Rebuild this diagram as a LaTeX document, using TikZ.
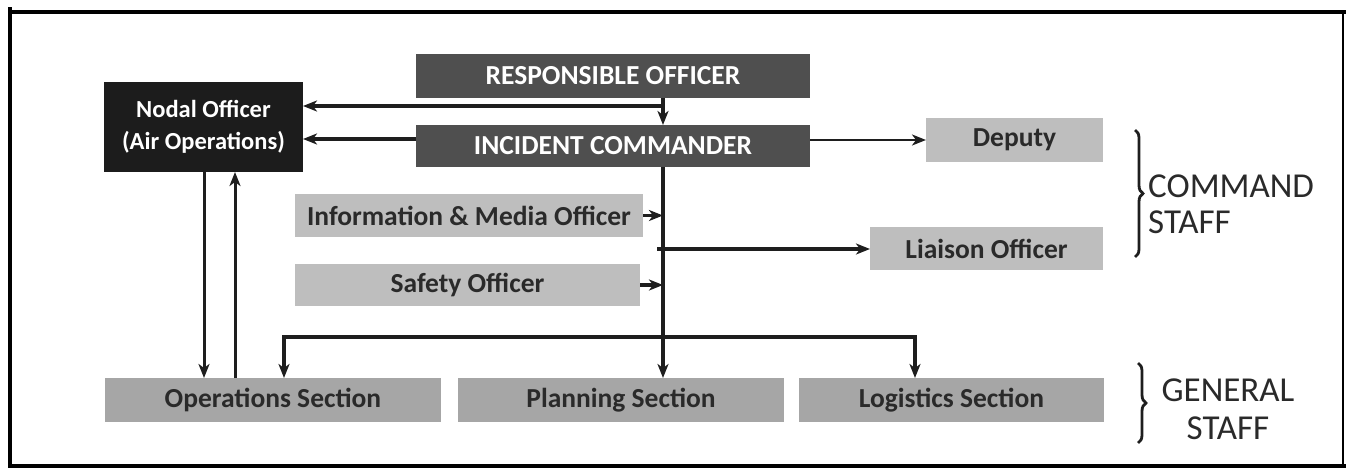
\documentclass[tikz,border=0pt]{standalone}
\usepackage{fontspec}
\setmainfont{Carlito}
\usetikzlibrary{arrows.meta,decorations.pathreplacing}
\definecolor{darkbox}{HTML}{4F4F4F}
\definecolor{nodalbox}{HTML}{1C1C1C}
\definecolor{lightbox}{HTML}{BEBEBE}
\definecolor{secbox}{HTML}{A6A6A6}
\definecolor{txtdark}{HTML}{2A2A2A}
\definecolor{linec}{HTML}{1E1E1E}
\begin{document}
\begin{tikzpicture}[x=1pt,y=-1pt,
  basebox/.style={anchor=north west, inner sep=0pt, outer sep=0pt, align=center,
    font=\fontsize{27.5}{29}\selectfont\bfseries},
  darkb/.style={basebox, fill=darkbox, text=white},
  nodalb/.style={basebox, fill=nodalbox, text=white, font=\fontsize{24.5}{32}\selectfont\bfseries},
  lightb/.style={basebox, fill=lightbox, text=txtdark},
  secb/.style={basebox, fill=secbox, text=txtdark},
  arr/.style={draw=linec, line width=3.6pt, -{Stealth[length=14pt,width=11pt,inset=4pt]}},
  thinarr/.style={draw=linec, line width=2.2pt, -{Stealth[length=14pt,width=11pt,inset=4pt]}},
  dblarr/.style={draw=linec, line width=3.6pt, {Stealth[length=14pt,width=11pt,inset=4pt]}-{Stealth[length=14pt,width=11pt,inset=4pt]}},
  bracestyle/.style={draw=linec, line width=2.8pt, decorate, decoration={brace, amplitude=8pt}},
  stafftext/.style={inner sep=0pt, text=txtdark, font=\fontsize{35}{36}\selectfont}
]
\useasboundingbox (0,0) rectangle (1346,471);

% frame
\draw[line width=4.5pt, draw=black] (1346,12) -- (10,12) -- (10,466) -- (1346,466);
\draw[line width=4.5pt, draw=black] (10,7) -- (10,12);
\draw[line width=2pt, draw=black] (1343,12) -- (1343,466);

% boxes
\node[darkb, minimum width=394pt, minimum height=44pt] (ro) at (416,54) {RESPONSIBLE OFFICER};
\node[darkb, minimum width=394pt, minimum height=42pt] (ic) at (416,125) {INCIDENT COMMANDER};
\node[nodalb, minimum width=199pt, minimum height=90pt] (nodal) at (104,82) {Nodal Officer\\(Air Operations)};
\node[lightb, minimum width=177pt, minimum height=44pt] (deputy) at (926,118) {Deputy};
\node[lightb, minimum width=348pt, minimum height=43pt] (info) at (295,194) {Information \& Media Officer};
\node[lightb, minimum width=233pt, minimum height=43pt] (liaison) at (870,227) {Liaison Officer};
\node[lightb, minimum width=345pt, minimum height=42pt] (safety) at (295,264) {Safety Officer};
\node[secb, minimum width=336pt, minimum height=44pt] (ops) at (105,378) {Operations Section};
\node[secb, minimum width=326pt, minimum height=44pt] (plan) at (458,378) {Planning Section};
\node[secb, minimum width=305pt, minimum height=44pt] (logi) at (799,378) {Logistics Section};

% helper coordinates
\coordinate (sx) at (663,0);
\coordinate (j1) at (663,106);
\coordinate (j2) at (0,139);
\coordinate (j3) at (0,140);
\coordinate (lj) at (657,249);
\coordinate (bl) at (284,337);
\coordinate (br) at (915,337);
\coordinate (d1) at (204,0);
\coordinate (u1) at (235,0);

% connectors
\draw[arr] (ro.south -| sx) -- (ic.north -| sx);
\draw[arr] (ro.south -| sx) -- (j1) -- (nodal.east |- j1);
\draw[arr] (ic.west |- j2) -- (nodal.east |- j2);
\draw[thinarr] (ic.east |- j3) -- (deputy.west |- j3);
\draw[arr] (ic.south -| sx) -- (plan.north -| sx);
\draw[arr] (info.east) -- (info.east -| sx);
\draw[arr] (safety.east) -- (safety.east -| sx);
\draw[arr] (lj) -- (liaison.west |- lj);
\draw[dblarr] (ops.north -| bl) -- (bl) -- (br) -- (logi.north -| br);
\draw[arr, line width=3pt] (nodal.south -| d1) -- (ops.north -| d1);
\draw[arr, line width=3pt] (ops.north -| u1) -- (nodal.south -| u1);

% braces and labels
\coordinate (cb1) at (1135,130);
\coordinate (cb2) at (1135,257);
\coordinate (gb1) at (1138,363);
\coordinate (gb2) at (1138,443);
\draw[bracestyle] (cb1) -- (cb2);
\draw[bracestyle] (gb1) -- (gb2);
\node[stafftext, anchor=west, align=left] (cmd) at (1148,204) {COMMAND\\STAFF};
\node[stafftext, anchor=center, align=center, font=\fontsize{35}{38}\selectfont] (gen) at (1228,409) {GENERAL\\STAFF};
\end{tikzpicture}
\end{document}
